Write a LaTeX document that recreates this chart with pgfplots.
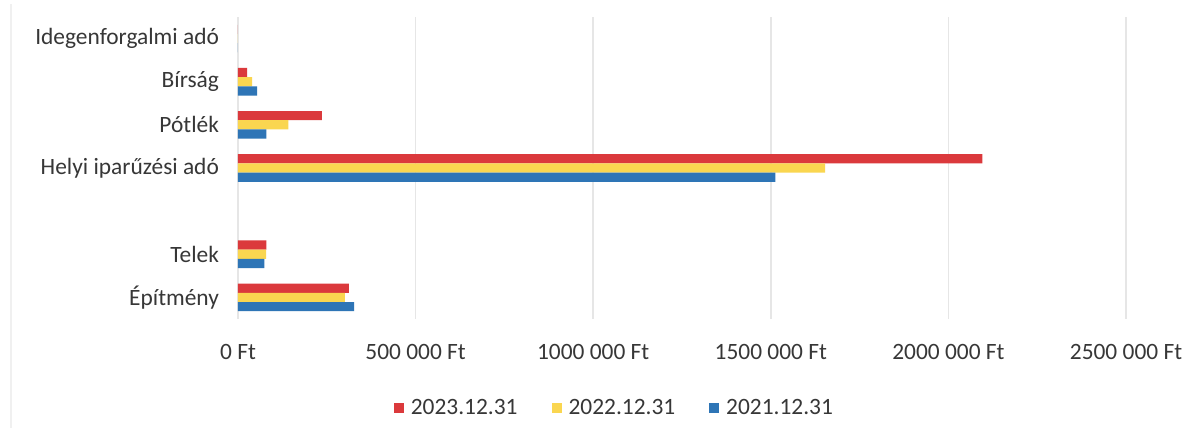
\documentclass[border=0pt]{standalone}
\usepackage{pgfplots}
\pgfplotsset{compat=1.18}
\usepackage{fontspec}
\setmainfont{Carlito}

\definecolor{cred}{RGB}{219,57,60}
\definecolor{cyel}{RGB}{250,214,80}
\definecolor{cblue}{RGB}{46,117,182}
\definecolor{ctxt}{RGB}{55,55,55}
\definecolor{cgrid}{RGB}{230,230,230}

% 2023.12.31
\pgfplotstableread{
y   v
0   312000
1   80000
3   2096000
4   236000
5   26000
6   0
}\tred
% 2022.12.31
\pgfplotstableread{
y   v
0   301000
1   79000
3   1653000
4   142000
5   40000
6   0
}\tyel
% 2021.12.31
\pgfplotstableread{
y   v
0   327000
1   74000
3   1513000
4   80000
5   54000
6   0
}\tblue

\begin{document}
\begin{tikzpicture}
\useasboundingbox (0pt,0pt) rectangle (600pt,216pt);
\fill[white] (0pt,0pt) rectangle (600pt,216pt);
\draw[gray!12, line width=0.8pt] (5.5pt,2pt) -- (5.5pt,214pt);
\begin{axis}[
    at={(119pt,56.5pt)}, anchor=south west,
    width=444pt, height=151pt, scale only axis,
    xbar, bar width=4.6pt,
    xmin=0, xmax=2500000,
    ymin=-0.5, ymax=6.5,
    ytick={0,...,6},
    yticklabels={Építmény, Telek, {}, Helyi iparűzési adó, Pótlék, Bírság, Idegenforgalmi adó},
    xtick={0,500000,1000000,1500000,2000000,2500000},
    xticklabels={0 Ft, 500 000 Ft, 1000 000 Ft, 1500 000 Ft, 2000 000 Ft, 2500 000 Ft},
    scaled x ticks=false,
    axis line style={draw=none},
    major tick length=0pt,
    xmajorgrids, grid style={cgrid, line width=0.8pt},
    tick label style={font=\fontsize{11.7}{13}\selectfont, text=ctxt},
    xticklabel style={yshift=-9pt},
    yticklabel style={xshift=-6pt},
    legend style={at={(0.425,-0.296)}, anchor=center, draw=none,
        font=\fontsize{11.7}{13}\selectfont, text=ctxt,
        legend columns=3,
        /tikz/every odd column/.append style={column sep=1.5pt},
        /tikz/every even column/.append style={column sep=15pt}},
    legend image code/.code={\fill[#1] (0pt,-2.5pt) rectangle (5pt,2.5pt);},
]
\addplot[fill=cred, draw=none, bar shift=4.6pt] table[x=v, y=y] {\tred};
\addlegendentry{2023.12.31}
\addplot[fill=cyel, draw=none, bar shift=0pt] table[x=v, y=y] {\tyel};
\addlegendentry{2022.12.31}
\addplot[fill=cblue, draw=none, bar shift=-4.6pt] table[x=v, y=y] {\tblue};
\addlegendentry{2021.12.31}
\end{axis}
\end{tikzpicture}
\end{document}
